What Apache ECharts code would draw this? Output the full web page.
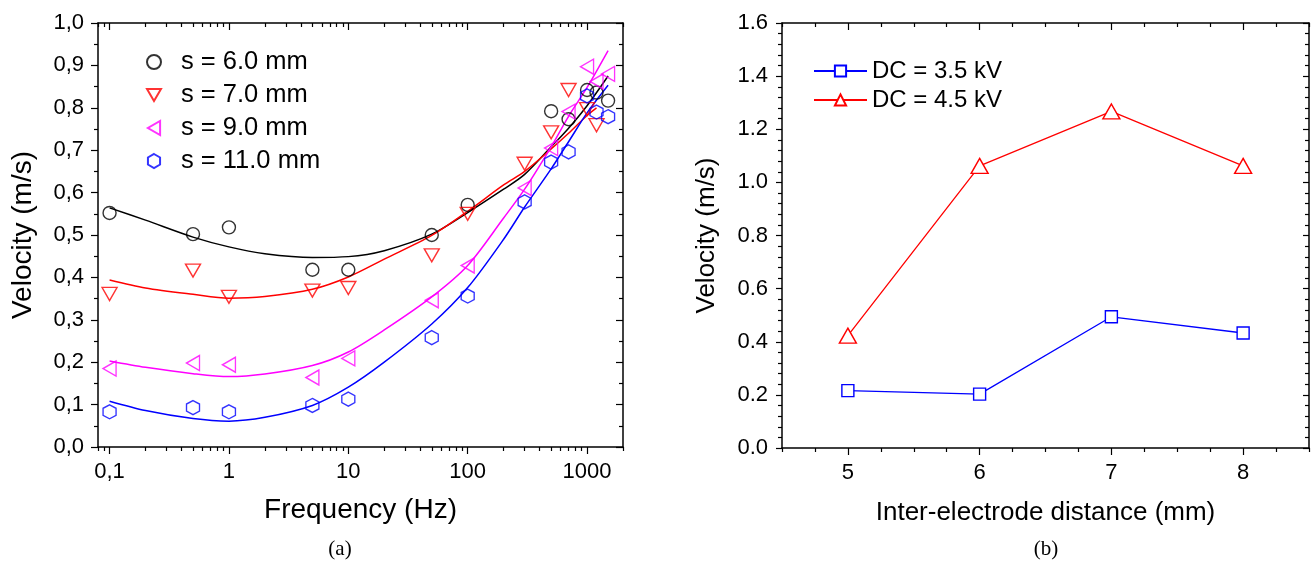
<!DOCTYPE html>
<html><head><meta charset="utf-8">
<script src="https://cdn.jsdelivr.net/npm/echarts@6/dist/echarts.min.js"></script>
<style>html,body{margin:0;padding:0;background:#fff}#c{width:1312px;height:565px}</style>
</head><body><div id="c"></div>
<script>
// ---- Panel (a): velocity vs frequency ----
const freq6  = [0.1, 0.5, 1, 5, 10, 50, 100, 500, 700, 1000, 1200, 1500];
const vel6   = [0.552, 0.502, 0.518, 0.418, 0.418, 0.500, 0.571, 0.792, 0.773, 0.842, 0.836, 0.817];
const freq7  = [0.1, 0.5, 1, 5, 10, 50, 100, 300, 500, 700, 1000, 1200];
const vel7   = [0.361, 0.416, 0.354, 0.369, 0.375, 0.452, 0.550, 0.668, 0.742, 0.842, 0.797, 0.759];
const freq9  = [0.1, 0.5, 1, 5, 10, 50, 100, 300, 500, 700, 1000, 1200, 1500];
const vel9   = [0.185, 0.198, 0.194, 0.164, 0.209, 0.346, 0.428, 0.611, 0.705, 0.791, 0.897, 0.862, 0.880];
const freq11 = [0.1, 0.5, 1, 5, 10, 50, 100, 300, 500, 700, 1000, 1200, 1500];
const vel11  = [0.083, 0.093, 0.083, 0.098, 0.113, 0.258, 0.356, 0.578, 0.672, 0.696, 0.828, 0.790, 0.779];

// fitted curves
const fitFreq  = [0.1, 0.2, 0.5, 1, 2, 5, 10, 20, 50, 100, 200, 300, 500, 700, 1000, 1500];
const fitFreq7 = [0.1, 0.2, 0.5, 1, 2, 5, 10, 20, 50, 100, 200, 300, 500, 700, 1000, 1200];
const fit6  = [0.564, 0.535, 0.495, 0.472, 0.456, 0.447, 0.449, 0.463, 0.502, 0.553, 0.608, 0.643, 0.708, 0.752, 0.805, 0.875];
const fit7  = [0.394, 0.375, 0.360, 0.351, 0.355, 0.372, 0.401, 0.443, 0.499, 0.556, 0.618, 0.650, 0.703, 0.740, 0.782, 0.800];
const fit9  = [0.203, 0.188, 0.173, 0.166, 0.172, 0.192, 0.224, 0.276, 0.354, 0.428, 0.540, 0.608, 0.708, 0.780, 0.848, 0.935];
const fit11 = [0.108, 0.086, 0.067, 0.061, 0.070, 0.098, 0.141, 0.200, 0.290, 0.376, 0.490, 0.566, 0.656, 0.720, 0.788, 0.853];

const freqMajor = [0.1, 1, 10, 100, 1000];
const freqMinor = [0.08, 0.09, 0.2, 0.3, 0.4, 0.5, 0.6, 0.7, 0.8, 0.9,
  2, 3, 4, 5, 6, 7, 8, 9, 20, 30, 40, 50, 60, 70, 80, 90,
  200, 300, 400, 500, 600, 700, 800, 900, 2000];

// ---- Panel (b): velocity vs inter-electrode distance ----
const distance = [5, 6, 7, 8];
const dc35 = [0.216, 0.203, 0.494, 0.433];
const dc45 = [0.423, 1.062, 1.267, 1.062];
const distMajor = [5, 6, 7, 8];
const distMinor = [4.5, 4.75, 5.25, 5.5, 5.75, 6.25, 6.5, 6.75, 7.25, 7.5, 7.75, 8.25, 8.5];

const FONT = '"Liberation Sans", Arial, Helvetica, sans-serif';
const pair = (xs, ys) => xs.map((x, i) => [x, ys[i]]);
const comma = v => String(v).replace('.', ',');

const lineOn = { show: true, onZero: false, lineStyle: { color: '#000', width: 1.5 } };
const lineOff = { show: false, onZero: false };
const tick = (vals, len, inside) => ({ show: true, inside: inside, length: len, customValues: vals, lineStyle: { color: '#000', width: 1.2 } });
const noLabel = { show: false };
const noSplit = { show: false };

const symDown = 'path://M0,0 L10,0 L5,8.7 Z';
const symLeft = 'path://M8.7,0 L8.7,10 L0,5 Z';
const symHex = 'path://M5,0 L9.33,2.5 L9.33,7.5 L5,10 L0.67,7.5 L0.67,2.5 Z';

function scatter(name, data, color, symbol, size) {
  return { type: 'scatter', name, data, xAxisIndex: 0, yAxisIndex: 0, symbol, symbolSize: size,
    itemStyle: { color: 'rgba(0,0,0,0)', borderColor: color, borderWidth: 1.4 }, z: 3 };
}
function fit(name, data, color) {
  return { type: 'line', name, data, xAxisIndex: 0, yAxisIndex: 0, smooth: 0.3, showSymbol: false,
    symbol: 'none', lineStyle: { color, width: 1.5 }, z: 2 };
}

const option = {
  animation: false,
  backgroundColor: '#fff',
  textStyle: { fontFamily: FONT, color: '#000' },
  grid: [
    { left: 98, top: 23, width: 525, height: 424, outerBoundsMode: 'none', containLabel: false },
    { left: 782, top: 23, width: 527, height: 425, outerBoundsMode: 'none', containLabel: false },
    { left: 98, top: 23, width: 525, height: 424, outerBoundsMode: 'none', containLabel: false },
    { left: 782, top: 23, width: 527, height: 425, outerBoundsMode: 'none', containLabel: false }
  ],
  xAxis: [
    { type: 'log', gridIndex: 0, position: 'bottom', min: 0.08, max: 2000, axisLine: lineOn,
      axisTick: tick(freqMajor, 7, false), splitLine: noSplit,
      axisLabel: { customValues: freqMajor, formatter: comma, fontSize: 22, margin: 14, color: '#000', fontFamily: FONT },
      name: 'Frequency (Hz)', nameLocation: 'middle', nameGap: 49,
      nameTextStyle: { fontSize: 28, color: '#000', fontFamily: FONT } },
    { type: 'log', gridIndex: 0, position: 'top', min: 0.08, max: 2000, axisLine: lineOn,
      axisTick: tick(freqMajor, 7, true), axisLabel: noLabel, splitLine: noSplit },
    { type: 'log', gridIndex: 2, position: 'bottom', min: 0.08, max: 2000, axisLine: lineOff,
      axisTick: tick(freqMinor, 4, false), axisLabel: noLabel, splitLine: noSplit },
    { type: 'log', gridIndex: 2, position: 'top', min: 0.08, max: 2000, axisLine: lineOff,
      axisTick: tick(freqMinor, 4, true), axisLabel: noLabel, splitLine: noSplit },
    { type: 'value', gridIndex: 1, position: 'bottom', min: 4.5, max: 8.5, axisLine: lineOn,
      axisTick: tick(distMajor, 7, false), splitLine: noSplit,
      axisLabel: { customValues: distMajor, fontSize: 22, margin: 14, color: '#000', fontFamily: FONT },
      name: 'Inter-electrode distance (mm)', nameLocation: 'middle', nameGap: 52,
      nameTextStyle: { fontSize: 26, color: '#000', fontFamily: FONT } },
    { type: 'value', gridIndex: 1, position: 'top', min: 4.5, max: 8.5, axisLine: lineOn,
      axisTick: tick(distMajor, 7, true), axisLabel: noLabel, splitLine: noSplit },
    { type: 'value', gridIndex: 3, position: 'bottom', min: 4.5, max: 8.5, axisLine: lineOff,
      axisTick: tick(distMinor, 4, false), axisLabel: noLabel, splitLine: noSplit },
    { type: 'value', gridIndex: 3, position: 'top', min: 4.5, max: 8.5, axisLine: lineOff,
      axisTick: tick(distMinor, 4, true), axisLabel: noLabel, splitLine: noSplit }
  ],
  yAxis: [
    { type: 'value', gridIndex: 0, position: 'left', min: 0, max: 1, interval: 0.1, axisLine: lineOn,
      axisTick: { show: true, inside: false, length: 7, lineStyle: { color: '#000', width: 1.2 } },
      minorTick: { show: true, splitNumber: 2, length: 4, lineStyle: { color: '#000', width: 1.2 } },
      splitLine: noSplit, minorSplitLine: noSplit,
      axisLabel: { formatter: v => v.toFixed(1).replace('.', ','), fontSize: 22, margin: 14, color: '#000', fontFamily: FONT },
      name: 'Velocity (m/s)', nameLocation: 'middle', nameGap: 61,
      nameTextStyle: { fontSize: 28, color: '#000', fontFamily: FONT } },
    { type: 'value', gridIndex: 0, position: 'right', min: 0, max: 1, interval: 0.1, axisLine: lineOn,
      axisTick: { show: true, inside: true, length: 7, lineStyle: { color: '#000', width: 1.2 } },
      minorTick: { show: true, splitNumber: 2, length: 4, lineStyle: { color: '#000', width: 1.2 } },
      splitLine: noSplit, minorSplitLine: noSplit, axisLabel: noLabel },
    { type: 'value', gridIndex: 2, min: 0, max: 1, show: false },
    { type: 'value', gridIndex: 1, position: 'left', min: 0, max: 1.6, interval: 0.2, axisLine: lineOn,
      axisTick: { show: true, inside: false, length: 6, lineStyle: { color: '#000', width: 1.2 } },
      minorTick: { show: true, splitNumber: 5, length: 4, lineStyle: { color: '#000', width: 1.2 } },
      splitLine: noSplit, minorSplitLine: noSplit,
      axisLabel: { formatter: v => v.toFixed(1), fontSize: 22, margin: 14, color: '#000', fontFamily: FONT },
      name: 'Velocity (m/s)', nameLocation: 'middle', nameGap: 62,
      nameTextStyle: { fontSize: 26, color: '#000', fontFamily: FONT } },
    { type: 'value', gridIndex: 1, position: 'right', min: 0, max: 1.6, interval: 0.2, axisLine: lineOn,
      axisTick: { show: true, inside: true, length: 6, lineStyle: { color: '#000', width: 1.2 } },
      minorTick: { show: true, splitNumber: 5, length: 4, lineStyle: { color: '#000', width: 1.2 } },
      splitLine: noSplit, minorSplitLine: noSplit, axisLabel: noLabel },
    { type: 'value', gridIndex: 3, min: 0, max: 1.6, show: false }
  ],
  legend: [
    { data: ['s = 6.0 mm', 's = 7.0 mm', 's = 9.0 mm', 's = 11.0 mm'], orient: 'vertical',
      left: 141, top: 44, itemWidth: 14, itemHeight: 14, itemGap: 7, selectedMode: false,
      textStyle: { fontSize: 25.5, lineHeight: 25, color: '#000', fontFamily: FONT, padding: [0, 0, 0, 15] } },
    { data: ['DC = 3.5 kV', 'DC = 4.5 kV'], orient: 'vertical',
      left: 808, top: 54, itemWidth: 53, itemHeight: 14, itemGap: 5, selectedMode: false,
      textStyle: { fontSize: 24, lineHeight: 24, color: '#000', fontFamily: FONT } }
  ],
  series: [
    fit('fit 6.0', pair(fitFreq, fit6), '#000000'),
    fit('fit 7.0', pair(fitFreq7, fit7), '#ff0000'),
    fit('fit 9.0', pair(fitFreq, fit9), '#ff00ff'),
    fit('fit 11.0', pair(fitFreq, fit11), '#0000ff'),
    scatter('s = 6.0 mm', pair(freq6, vel6), '#000000', 'circle', 13),
    scatter('s = 7.0 mm', pair(freq7, vel7), '#ff0000', symDown, [15, 13]),
    scatter('s = 9.0 mm', pair(freq9, vel9), '#ff00ff', symLeft, [13, 15]),
    scatter('s = 11.0 mm', pair(freq11, vel11), '#0000ff', symHex, [13, 14]),
    { type: 'line', name: 'DC = 3.5 kV', xAxisIndex: 4, yAxisIndex: 3, data: pair(distance, dc35),
      symbol: 'rect', symbolSize: 12, lineStyle: { color: '#0000ff', width: 1.3 },
      itemStyle: { color: '#fff', borderColor: '#0000ff', borderWidth: 1.4 } },
    { type: 'line', name: 'DC = 4.5 kV', xAxisIndex: 4, yAxisIndex: 3, data: pair(distance, dc45),
      symbol: 'triangle', symbolSize: [17, 15], lineStyle: { color: '#ff0000', width: 1.3 },
      itemStyle: { color: '#fff', borderColor: '#ff0000', borderWidth: 1.4 } }
  ],
  graphic: [
    { type: 'text', x: 340, y: 549, style: { text: '(a)', font: '21px "Liberation Serif", "Times New Roman", serif', fill: '#000', align: 'center', verticalAlign: 'middle' } },
    { type: 'text', x: 1046, y: 549, style: { text: '(b)', font: '21px "Liberation Serif", "Times New Roman", serif', fill: '#000', align: 'center', verticalAlign: 'middle' } }
  ]
};
const chart = echarts.init(document.getElementById('c'));
chart.setOption(option);
</script>
</body></html>
